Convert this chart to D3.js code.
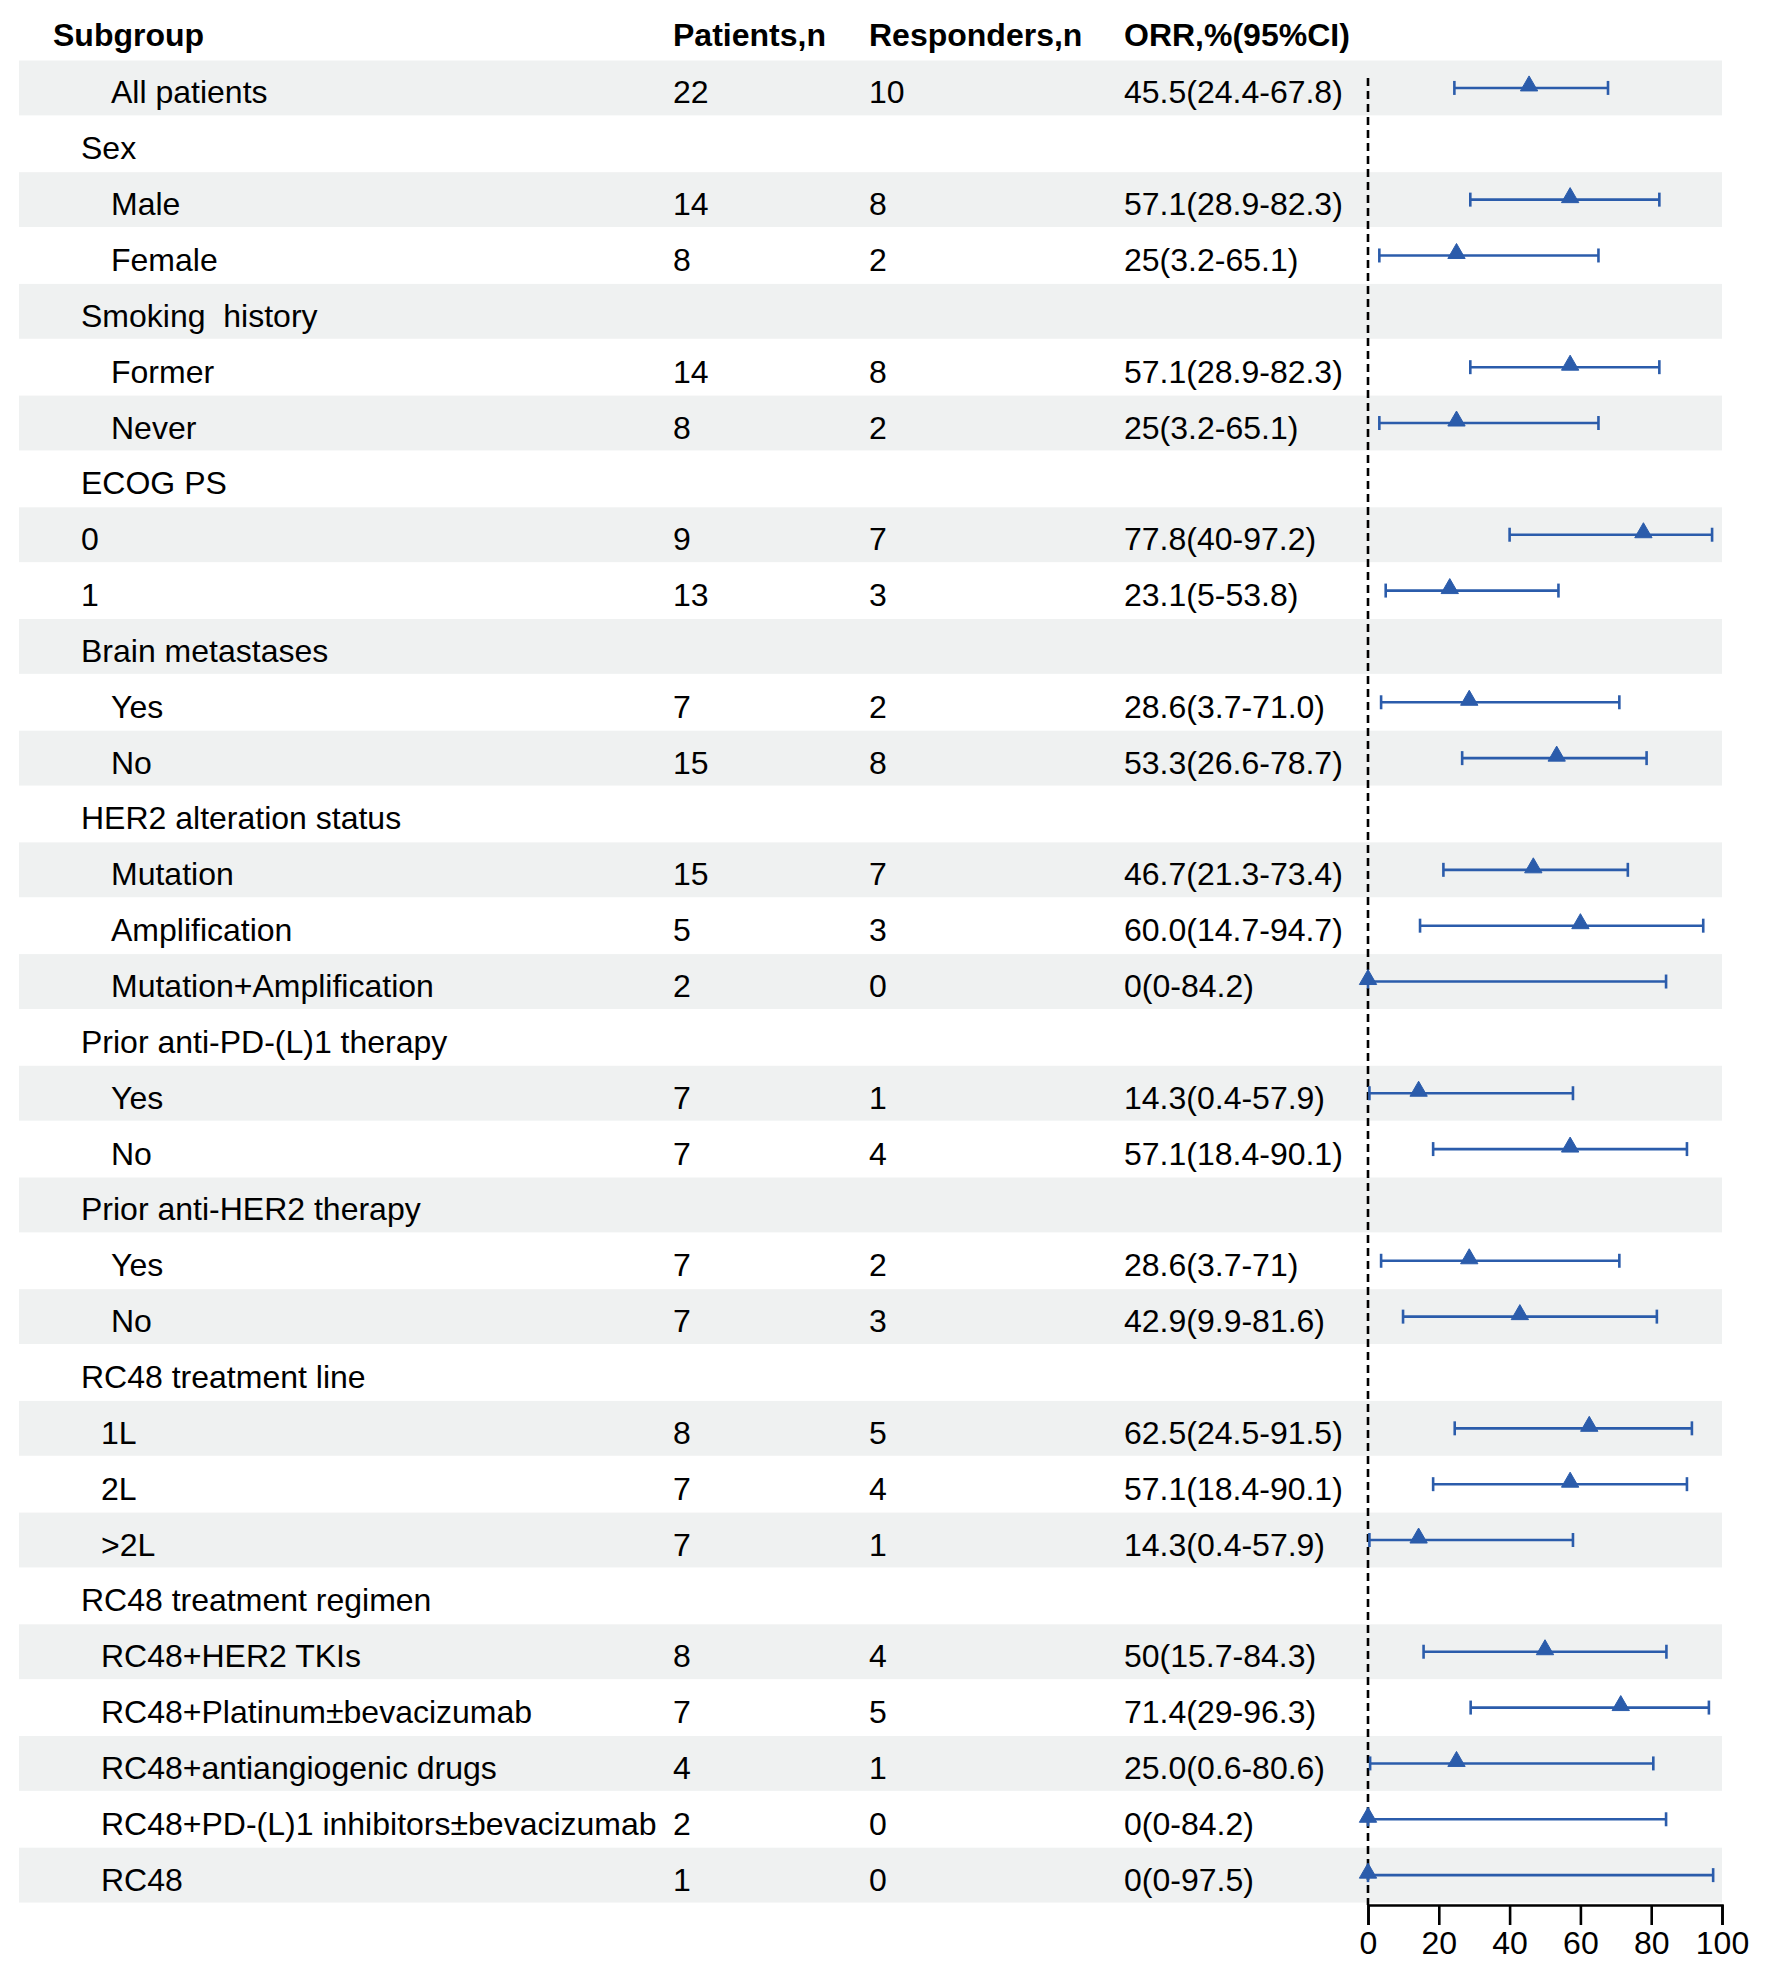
<!DOCTYPE html>
<html>
<head>
<meta charset="utf-8">
<script src="https://cdn.jsdelivr.net/npm/d3@7"></script>
<style>
  html, body { margin: 0; padding: 0; background: #ffffff; }
  svg { display: block; }
  text { font-family: Arial, "Liberation Sans", sans-serif; fill: #000; }
</style>
</head>
<body>
<svg id="chart" width="1766" height="1981"></svg>
<script>
// ---------------- DATA ----------------
const headers = ["Subgroup", "Patients,n", "Responders,n", "ORR,%(95%CI)"];

const subgroups = [
  "All patients", "Sex", "Male", "Female", "Smoking  history", "Former", "Never",
  "ECOG PS", "0", "1", "Brain metastases", "Yes", "No",
  "HER2 alteration status", "Mutation", "Amplification", "Mutation+Amplification",
  "Prior anti-PD-(L)1 therapy", "Yes", "No",
  "Prior anti-HER2 therapy", "Yes", "No",
  "RC48 treatment line", "1L", "2L", ">2L",
  "RC48 treatment regimen", "RC48+HER2 TKIs", "RC48+Platinum\u00B1bevacizumab",
  "RC48+antiangiogenic drugs", "RC48+PD-(L)1 inhibitors\u00B1bevacizumab", "RC48"
];

// indent level: 0 = group heading, 1 = indented subgroup, 2 = slightly indented
const indentLevel = [
  1, 0, 1, 1, 0, 1, 1,
  0, 0, 0, 0, 1, 1,
  0, 1, 1, 1,
  0, 1, 1,
  0, 1, 1,
  0, 2, 2, 2,
  0, 2, 2, 2, 2, 2
];

const patients = [
  "22", "", "14", "8", "", "14", "8",
  "", "9", "13", "", "7", "15",
  "", "15", "5", "2",
  "", "7", "7",
  "", "7", "7",
  "", "8", "7", "7",
  "", "8", "7", "4", "2", "1"
];

const responders = [
  "10", "", "8", "2", "", "8", "2",
  "", "7", "3", "", "2", "8",
  "", "7", "3", "0",
  "", "1", "4",
  "", "2", "3",
  "", "5", "4", "1",
  "", "4", "5", "1", "0", "0"
];

const orrText = [
  "45.5(24.4-67.8)", "", "57.1(28.9-82.3)", "25(3.2-65.1)", "", "57.1(28.9-82.3)", "25(3.2-65.1)",
  "", "77.8(40-97.2)", "23.1(5-53.8)", "", "28.6(3.7-71.0)", "53.3(26.6-78.7)",
  "", "46.7(21.3-73.4)", "60.0(14.7-94.7)", "0(0-84.2)",
  "", "14.3(0.4-57.9)", "57.1(18.4-90.1)",
  "", "28.6(3.7-71)", "42.9(9.9-81.6)",
  "", "62.5(24.5-91.5)", "57.1(18.4-90.1)", "14.3(0.4-57.9)",
  "", "50(15.7-84.3)", "71.4(29-96.3)", "25.0(0.6-80.6)", "0(0-84.2)", "0(0-97.5)"
];

const est = [
  45.5, null, 57.1, 25, null, 57.1, 25,
  null, 77.8, 23.1, null, 28.6, 53.3,
  null, 46.7, 60.0, 0,
  null, 14.3, 57.1,
  null, 28.6, 42.9,
  null, 62.5, 57.1, 14.3,
  null, 50, 71.4, 25.0, 0, 0
];
const lower = [
  24.4, null, 28.9, 3.2, null, 28.9, 3.2,
  null, 40, 5, null, 3.7, 26.6,
  null, 21.3, 14.7, 0,
  null, 0.4, 18.4,
  null, 3.7, 9.9,
  null, 24.5, 18.4, 0.4,
  null, 15.7, 29, 0.6, 0, 0
];
const upper = [
  67.8, null, 82.3, 65.1, null, 82.3, 65.1,
  null, 97.2, 53.8, null, 71.0, 78.7,
  null, 73.4, 94.7, 84.2,
  null, 57.9, 90.1,
  null, 71, 81.6,
  null, 91.5, 90.1, 57.9,
  null, 84.3, 96.3, 80.6, 84.2, 97.5
];

const xTicks = [0, 20, 40, 60, 80, 100];

// ---------------- LAYOUT ----------------
const svg = d3.select("#chart");
const fontSize = 32;
const rowTop = 60;
const rowH = 55.85;
const bandLeft = 19, bandRight = 1722;
const colX = { label: [81, 111, 101], header: 53, patients: 673, responders: 869, orr: 1124 };
const ciColor = "#2b5cab";

const n = subgroups.length;
const y = d3.scaleBand()
  .domain(d3.range(n))
  .range([rowTop, rowTop + rowH * n])
  .paddingInner(0);

const x = d3.scaleLinear().domain([0, 100]).range([1368, 1722]);

// bands (alternating)
svg.append("g").selectAll("rect")
  .data(d3.range(n).filter(i => i % 2 === 0))
  .join("rect")
  .attr("x", bandLeft)
  .attr("y", i => y(i) + 0.5)
  .attr("width", bandRight - bandLeft)
  .attr("height", y.bandwidth() - 1)
  .attr("fill", "#eff1f1");

// headers
const headerY = 46;
const headerG = svg.append("g").attr("font-weight", "bold").attr("font-size", fontSize);
headerG.append("text").attr("x", colX.header).attr("y", headerY).text(headers[0]);
headerG.append("text").attr("x", colX.patients).attr("y", headerY).text(headers[1]);
headerG.append("text").attr("x", colX.responders).attr("y", headerY).text(headers[2]);
headerG.append("text").attr("x", colX.orr).attr("y", headerY).text(headers[3]);

// table text
const baseline = i => y(i) + y.bandwidth() / 2 + 15.5;
const tbl = svg.append("g").attr("font-size", fontSize);
tbl.selectAll("text.lab").data(d3.range(n)).join("text")
  .attr("class", "lab")
  .attr("x", i => colX.label[indentLevel[i]])
  .attr("y", baseline)
  .attr("xml:space", "preserve")
  .style("white-space", "pre")
  .text(i => subgroups[i]);
tbl.selectAll("text.pat").data(d3.range(n)).join("text")
  .attr("class", "pat").attr("x", colX.patients).attr("y", baseline)
  .text(i => patients[i]);
tbl.selectAll("text.resp").data(d3.range(n)).join("text")
  .attr("class", "resp").attr("x", colX.responders).attr("y", baseline)
  .text(i => responders[i]);
tbl.selectAll("text.orr").data(d3.range(n)).join("text")
  .attr("class", "orr").attr("x", colX.orr).attr("y", baseline)
  .text(i => orrText[i]);

// reference dashed line at 0
const axisY = 1905;
svg.append("line")
  .attr("x1", x(0)).attr("x2", x(0))
  .attr("y1", 78).attr("y2", axisY)
  .attr("stroke", "#000").attr("stroke-width", 2.6)
  .attr("stroke-dasharray", "8,5");

// CIs
const rowsWithCI = d3.range(n).filter(i => est[i] !== null);
const cy = i => y(i) + y.bandwidth() / 2;
const ci = svg.append("g").attr("stroke", ciColor).attr("stroke-width", 2.6);
ci.selectAll("line.ci").data(rowsWithCI).join("line")
  .attr("class", "ci")
  .attr("x1", i => x(lower[i])).attr("x2", i => x(upper[i]))
  .attr("y1", cy).attr("y2", cy);
ci.selectAll("line.capL").data(rowsWithCI).join("line")
  .attr("class", "capL")
  .attr("x1", i => x(lower[i])).attr("x2", i => x(lower[i]))
  .attr("y1", i => cy(i) - 7).attr("y2", i => cy(i) + 7);
ci.selectAll("line.capU").data(rowsWithCI).join("line")
  .attr("class", "capU")
  .attr("x1", i => x(upper[i])).attr("x2", i => x(upper[i]))
  .attr("y1", i => cy(i) - 7).attr("y2", i => cy(i) + 7);

// point estimates (triangles)
const tri = d3.symbol().type(d3.symbolTriangle).size(130);
svg.append("g").selectAll("path").data(rowsWithCI).join("path")
  .attr("d", tri)
  .attr("transform", i => `translate(${x(est[i])},${cy(i) - 2})`)
  .attr("fill", ciColor)
  .attr("stroke", ciColor)
  .attr("stroke-width", 1);

// x axis
const axisG = svg.append("g").attr("transform", `translate(0,${axisY})`);
const axis = d3.axisBottom(x).tickValues(xTicks).tickSize(20).tickSizeOuter(20).tickPadding(6);
axisG.call(axis);
axisG.select(".domain").attr("stroke", "#000").attr("stroke-width", 2.6);
axisG.selectAll(".tick line").attr("stroke", "#000").attr("stroke-width", 2.6);
axisG.selectAll(".tick text")
  .attr("font-size", fontSize)
  .attr("font-family", "Arial, 'Liberation Sans', sans-serif")
  .attr("fill", "#000");
</script>
</body>
</html>
